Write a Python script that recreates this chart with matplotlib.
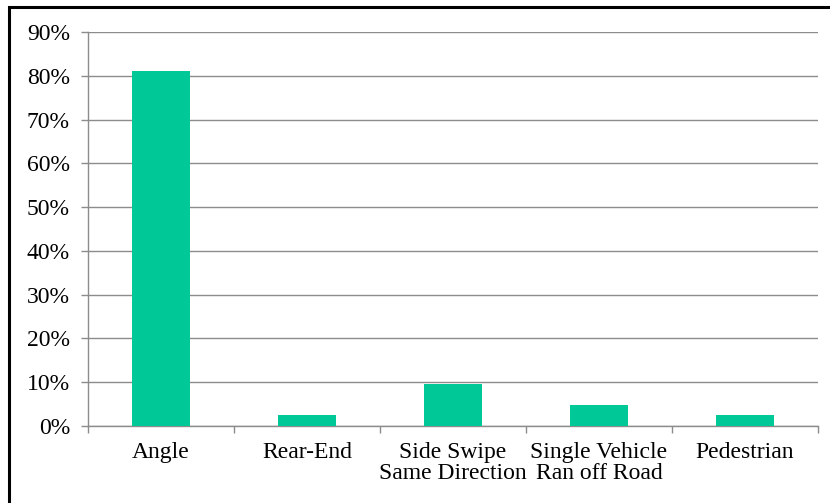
import matplotlib
matplotlib.use("Agg")
import matplotlib.pyplot as plt
from matplotlib.patches import Rectangle
from matplotlib.ticker import FixedLocator, PercentFormatter

# Crash type shares (%)
categories = ["Angle", "Rear-End", "Side Swipe\nSame Direction",
              "Single Vehicle\nRan off Road", "Pedestrian"]
shares = [81.2, 2.4, 9.5, 4.7, 2.4]
y_ticks = [0, 10, 20, 30, 40, 50, 60, 70, 80, 90]

BAR_COLOR = "#00c896"
GRID_COLOR = "#8c8c8c"
FONT = "Liberation Serif"
FS = 17

fig = plt.figure(figsize=(8.30, 5.03), dpi=100)
ax = fig.add_axes([88 / 830, 77.3 / 503, (818 - 88) / 830, (425.7 - 32.3) / 503])

x = list(range(len(categories)))
ax.bar(x, shares, width=0.4, color=BAR_COLOR, zorder=3)

ax.set_xlim(-0.5, len(categories) - 0.5)
ax.set_ylim(0, 90)
ax.yaxis.set_major_locator(FixedLocator(y_ticks))
ax.yaxis.set_major_formatter(PercentFormatter(decimals=0))
ax.yaxis.grid(True, color=GRID_COLOR, linewidth=1.0, zorder=0)

# category labels centred, tick marks on the category boundaries
ax.set_xticks(x)
ax.set_xticklabels(categories, fontsize=FS, family=FONT, linespacing=0.95)
ax.tick_params(axis="x", which="major", length=0, pad=12)
ax.set_xticks([i - 0.5 for i in range(len(categories) + 1)], minor=True)
ax.tick_params(axis="x", which="minor", length=5, color=GRID_COLOR, width=1.0)

ax.tick_params(axis="y", length=5, color=GRID_COLOR, width=1.0, pad=8)
for lbl in ax.get_yticklabels():
    lbl.set_family(FONT)
    lbl.set_fontsize(FS)

for side in ("top", "right"):
    ax.spines[side].set_visible(False)
for side in ("left", "bottom"):
    ax.spines[side].set_color(GRID_COLOR)
    ax.spines[side].set_linewidth(1.0)

# outer border around the chart area
fig.patches.append(Rectangle((9 / 830, -0.1), 1.2, (503 - 7) / 503 + 0.1,
                             transform=fig.transFigure, fill=False,
                             edgecolor="black", linewidth=2.2))

fig.savefig("out.png", dpi=100, facecolor="white")
